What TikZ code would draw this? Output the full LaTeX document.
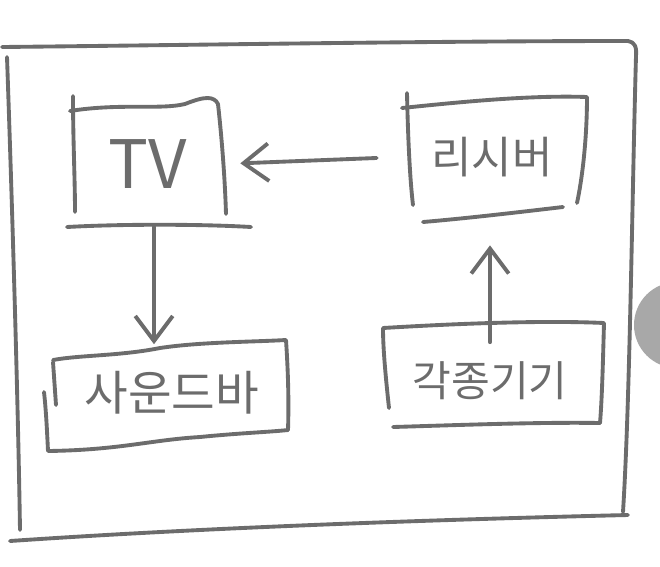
\documentclass[tikz,border=0pt]{standalone}
\usepackage{fontspec}
\newfontfamily\kr{Noto Sans CJK KR}
\usetikzlibrary{arrows.meta}
\definecolor{pencil}{RGB}{108,108,108}
\definecolor{fab}{RGB}{168,168,168}
\begin{document}
\begin{tikzpicture}[x=0.02cm,y=-0.02cm,
  sketch/.style={draw=pencil, line width=2.2pt, line cap=round, line join=round},
  box/.style={text=pencil, font=\kr, inner sep=0pt, draw=none},
  conn/.style={sketch, -{Straight Barb[length=0.5cm,width=0.75cm]}}]
\useasboundingbox (0,0) rectangle (660,566);
\clip (0,0) rectangle (660,566);
\fill[white] (0,0) rectangle (660,566);
% outer frame
\draw[sketch] (2,47) .. controls (200,45) and (430,41) .. (628,41) .. controls (634,42) and (637,46) .. (636,56)
  .. controls (632,200) and (630,400) .. (623,512);
\draw[sketch] (7,57) .. controls (12,200) and (18,400) .. (20,530);
\draw[sketch] (10,541) .. controls (200,528) and (420,520) .. (628,515);
% floating action circle
\fill[fab] (677,325) circle [radius=0.86cm];
% nodes
\node[box, minimum width=3cm, minimum height=2.3cm, font=\kr\fontsize{38pt}{40pt}\selectfont] (tv) at (148,164) {TV};
\node[box, minimum width=3.6cm, minimum height=2.2cm, font=\kr\fontsize{25pt}{27pt}\selectfont] (rcv) at (492,157) {리시버};
\node[box, minimum width=4.76cm, minimum height=1.9cm, font=\kr\fontsize{27pt}{29pt}\selectfont] (sb) at (172,393) {사운드바};
\node[box, minimum width=4.32cm, minimum height=1.9cm, font=\kr\fontsize{24pt}{26pt}\selectfont] (gk) at (490,381) {각종기기};
% TV box
\draw[sketch] (73,96) .. controls (73,140) and (75,180) .. (75,212);
\draw[sketch] (70,111) .. controls (120,103) and (160,110) .. (185,104) .. controls (205,96) and (214,96) .. (218,104)
  .. controls (222,140) and (225,180) .. (226,214);
\draw[sketch] (67,227) .. controls (120,224) and (200,224) .. (251,227);
% receiver box
\draw[sketch] (407,93) .. controls (408,140) and (410,180) .. (413,205);
\draw[sketch] (402,108) .. controls (460,102) and (530,95) .. (587,97) .. controls (587,140) and (582,180) .. (577,203);
\draw[sketch] (423,222) .. controls (470,218) and (520,212) .. (563,207);
% soundbar box
\draw[sketch] (53,360) .. controls (80,355) and (120,356) .. (160,348) .. controls (200,342) and (250,342) .. (286,340)
  .. controls (288,370) and (289,400) .. (288,430);
\draw[sketch] (53,362) -- (56,405);
\draw[sketch] (44,392) .. controls (46,410) and (47,430) .. (48,451) .. controls (120,450) and (150,440) .. (200,437)
  .. controls (240,433) and (270,432) .. (288,430);
% devices box
\draw[sketch] (389,408) .. controls (386,380) and (383,350) .. (383,328) .. controls (450,324) and (540,320) .. (604,323)
  .. controls (603,360) and (602,400) .. (600,423);
\draw[sketch] (393,427) .. controls (460,425) and (540,422) .. (600,423);
% connectors
\draw[conn, shorten <=0.5cm, shorten >=0.34cm] (rcv.west) -- (tv.east);
\draw[conn, shorten <=0.1cm, shorten >=0.02cm] ([xshift=0.12cm]tv.south) -- ([xshift=0.12cm]tv.south |- sb.north);
\draw[conn, shorten <=-0.18cm, shorten >=0.66cm] (gk.north) -- (gk.north |- rcv.south);
\end{tikzpicture}
\end{document}
